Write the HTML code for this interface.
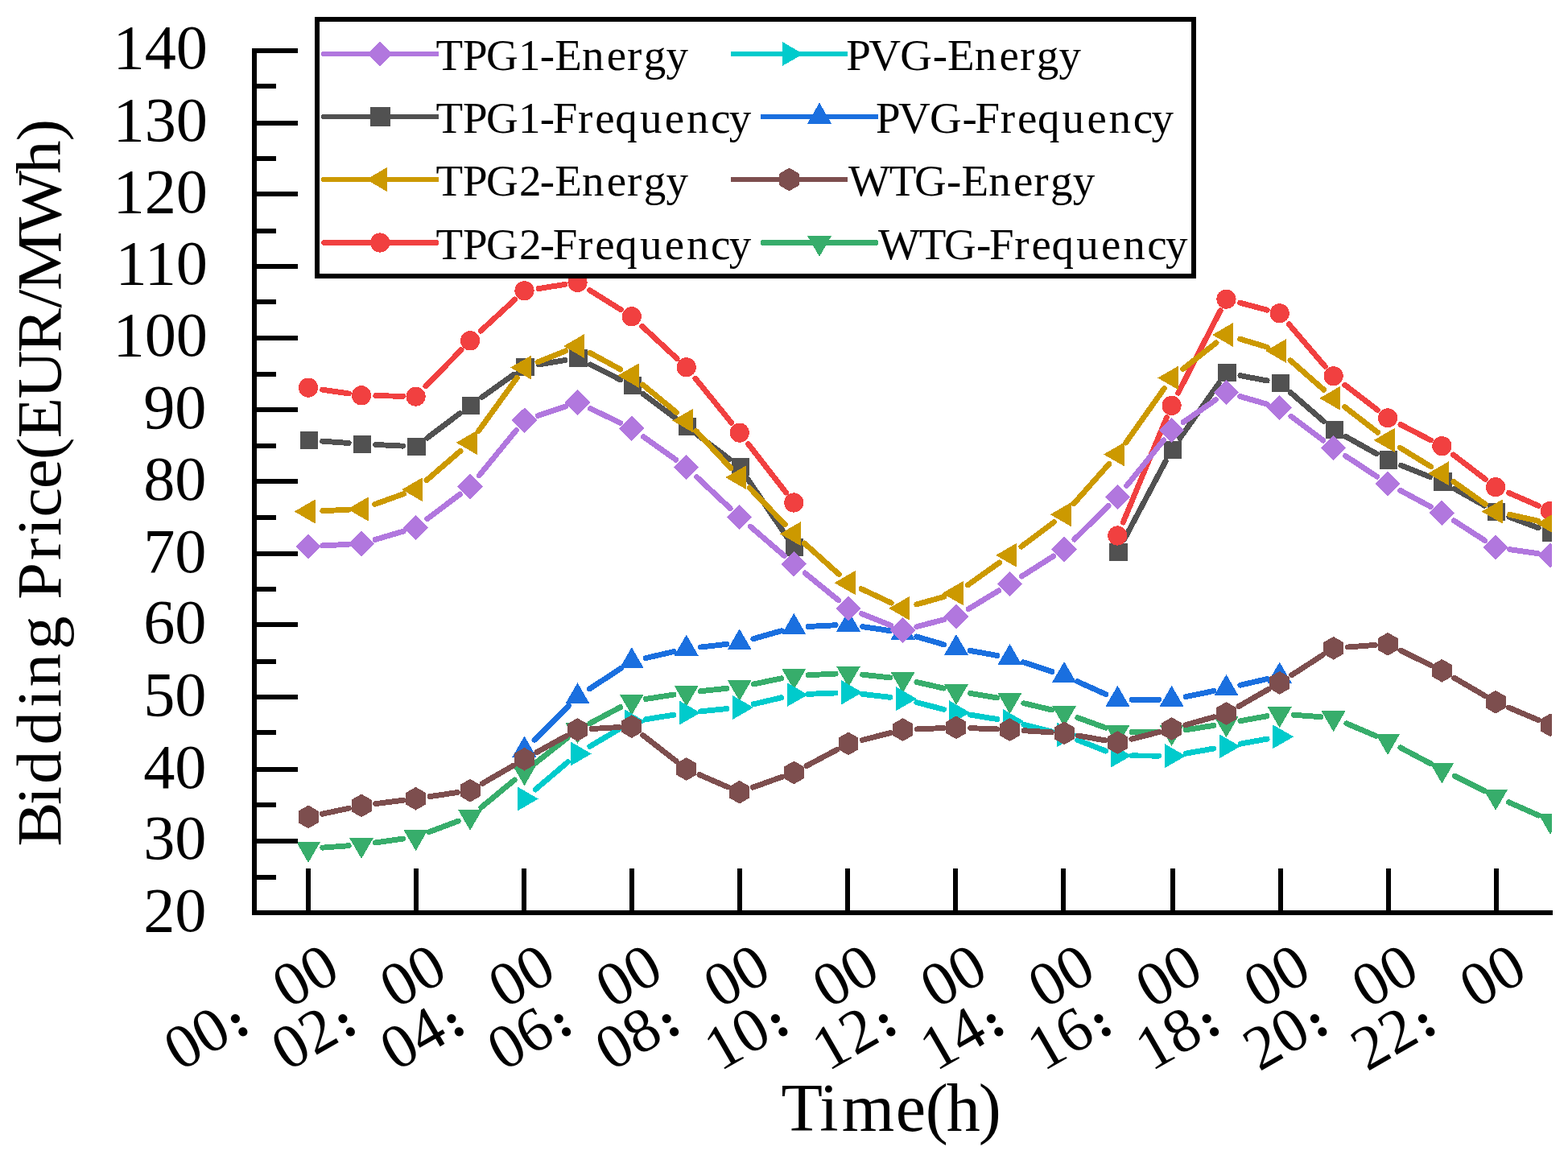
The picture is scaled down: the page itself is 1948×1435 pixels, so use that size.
<!DOCTYPE html><html><head><meta charset="utf-8"><title>Bidding Price</title><style>html,body{margin:0;padding:0;background:#fff}svg{display:block}text{font-family:"Liberation Serif",serif;fill:#000}.cn{font-family:"Noto Sans CJK SC","DejaVu Serif",sans-serif;font-weight:900}</style></head><body>
<svg width="1948" height="1435" viewBox="0 0 1948 1435" shape-rendering="crispEdges">
<rect width="1948" height="1435" fill="#fff"/>
<defs><clipPath id="cp"><rect x="316" y="0" width="1612" height="1134"/></clipPath></defs>
<g clip-path="url(#cp)">
<g><path d="M400.8 548.16L433.17 550.47M466.81 552.47L500.67 554.12M530.75 544.17L571.39 513.48M598.58 493.58L638.55 465.12M669.06 452.97L701.82 447.51M733.39 452.93L770.61 471.73M799.05 489.56L839.97 520.18M866.87 540.48L906.04 570.27M928.66 594.65L977.4 666.82M1396.73 670.07L1448.17 572.95M1465.91 544.38L1514.25 476.27M1540.94 466.63L1574.08 472.93M1603.15 487.56L1644.59 523.48M1672.15 542.56L1710.21 563.76M1740.62 578.13L1776.64 592.58M1806.93 607.21L1844.23 628.12M1874.76 642.18L1911.12 655.89" stroke="#515151" stroke-width="6.9" stroke-linecap="round" fill="none"/><rect x="372.94" y="535.8" width="22.2" height="22.2" fill="#515151"/><rect x="438.93" y="540.5" width="22.2" height="22.2" fill="#515151"/><rect x="506.45" y="543.8" width="22.2" height="22.2" fill="#515151"/><rect x="573.98" y="492.8" width="22.2" height="22.2" fill="#515151"/><rect x="641.4" y="444.8" width="22.2" height="22.2" fill="#515151"/><rect x="707.4" y="433.8" width="22.2" height="22.2" fill="#515151"/><rect x="774.7" y="467.8" width="22.2" height="22.2" fill="#515151"/><rect x="842.6" y="518.6" width="22.2" height="22.2" fill="#515151"/><rect x="908.6" y="568.8" width="22.2" height="22.2" fill="#515151"/><rect x="976.2" y="668.9" width="22.2" height="22.2" fill="#515151"/><rect x="1378.3" y="674.7" width="22.2" height="22.2" fill="#515151"/><rect x="1445.51" y="547.8" width="22.2" height="22.2" fill="#515151"/><rect x="1513.35" y="452.2" width="22.2" height="22.2" fill="#515151"/><rect x="1579.6" y="464.8" width="22.2" height="22.2" fill="#515151"/><rect x="1646.5" y="522.8" width="22.2" height="22.2" fill="#515151"/><rect x="1714" y="560.4" width="22.2" height="22.2" fill="#515151"/><rect x="1781.3" y="587.4" width="22.2" height="22.2" fill="#515151"/><rect x="1848" y="624.8" width="22.2" height="22.2" fill="#515151"/><rect x="1915.9" y="650.4" width="22.2" height="22.2" fill="#515151"/></g>
<g><path d="M400.65 484.19L433.3 488.99M466.83 491.64L500.65 492.29M528.97 479.85L572.98 434.69M597.18 411.25L639.8 372.06M669.09 358.56L701.79 353.45M732.57 360.47L771.34 384.84M797.85 405.41L841.04 445.49M863.92 470.12L908.68 525.26M929.63 551.65L976.54 611.95M1395.24 649.06L1449.5 518.58M1463.73 488.06L1516.2 385.75M1540.65 376.19L1574.34 385.2M1601.29 402.81L1646.25 455.23M1670.71 478.15L1711.5 509.51M1739.89 527.41L1777.29 546.86M1805.54 565.01L1845.47 595.54M1874.42 612.31L1911.42 628.45" stroke="#F14040" stroke-width="6.9" stroke-linecap="round" fill="none"/><circle cx="383.04" cy="481.6" r="12.1" fill="#F14040"/><circle cx="449.03" cy="491.3" r="12.1" fill="#F14040"/><circle cx="516.55" cy="492.6" r="12.1" fill="#F14040"/><circle cx="584.08" cy="423.3" r="12.1" fill="#F14040"/><circle cx="651.5" cy="361.3" r="12.1" fill="#F14040"/><circle cx="717.5" cy="351" r="12.1" fill="#F14040"/><circle cx="784.8" cy="393.3" r="12.1" fill="#F14040"/><circle cx="852.7" cy="456.3" r="12.1" fill="#F14040"/><circle cx="918.7" cy="537.6" r="12.1" fill="#F14040"/><circle cx="986.3" cy="624.5" r="12.1" fill="#F14040"/><circle cx="1388.4" cy="665.5" r="12.1" fill="#F14040"/><circle cx="1455.61" cy="503.9" r="12.1" fill="#F14040"/><circle cx="1523.45" cy="371.6" r="12.1" fill="#F14040"/><circle cx="1589.7" cy="389.3" r="12.1" fill="#F14040"/><circle cx="1656.6" cy="467.3" r="12.1" fill="#F14040"/><circle cx="1724.1" cy="519.2" r="12.1" fill="#F14040"/><circle cx="1791.4" cy="554.2" r="12.1" fill="#F14040"/><circle cx="1858.1" cy="605.2" r="12.1" fill="#F14040"/><circle cx="1926" cy="634.8" r="12.1" fill="#F14040"/></g>
<g><path d="M664.06 919.28L706.28 876.87M732.4 855.86L771.49 830.3M802.15 817.61L837.2 809.56M870.39 804.02L902.9 800.37M935.82 793.71L971.01 783.67M1004.08 778.43L1038.12 776.77M1071.61 778.6L1105.87 783.67M1138.69 790.97L1172.68 800.86M1205.47 808.46L1238.85 814.48M1271.43 822.81L1306.98 834.38M1338.33 846.62L1373.91 862.66M1406.2 869.2L1439.71 869.2M1473.05 865.63L1507.87 858.49M1540.79 851.27L1574.21 843.5" stroke="#1A6FDF" stroke-width="6.9" stroke-linecap="round" fill="none"/><polygon points="651.5,914.5 666.57,940.6 636.43,940.6" fill="#1A6FDF"/><polygon points="717.5,848.2 732.57,874.3 702.43,874.3" fill="#1A6FDF"/><polygon points="784.8,804.2 799.87,830.3 769.73,830.3" fill="#1A6FDF"/><polygon points="852.7,788.6 867.77,814.7 837.63,814.7" fill="#1A6FDF"/><polygon points="918.7,781.2 933.77,807.3 903.63,807.3" fill="#1A6FDF"/><polygon points="986.3,761.9 1001.37,788 971.23,788" fill="#1A6FDF"/><polygon points="1054,758.6 1069.07,784.7 1038.93,784.7" fill="#1A6FDF"/><polygon points="1121.6,768.6 1136.67,794.7 1106.53,794.7" fill="#1A6FDF"/><polygon points="1187.95,787.9 1203.02,814 1172.88,814" fill="#1A6FDF"/><polygon points="1254.5,799.9 1269.57,826 1239.43,826" fill="#1A6FDF"/><polygon points="1322.1,821.9 1337.17,848 1307.03,848" fill="#1A6FDF"/><polygon points="1388.4,851.8 1403.47,877.9 1373.33,877.9" fill="#1A6FDF"/><polygon points="1455.61,851.8 1470.68,877.9 1440.54,877.9" fill="#1A6FDF"/><polygon points="1523.45,837.9 1538.52,864 1508.38,864" fill="#1A6FDF"/><polygon points="1589.7,822.5 1604.77,848.6 1574.63,848.6" fill="#1A6FDF"/></g>
<g><path d="M400.79 1053.16L433.18 1050.7M466.65 1046.97L500.81 1042.06M533.22 1033.56L569.19 1020.08M597.81 1003.17L639.23 969.02M665.47 947.87L705.02 916.65M733.23 898.48L770.75 878.63M802.39 868.45L836.99 863.05M870.4 858.72L902.89 855.28M936.13 849.99L970.73 842.82M1004.08 838.73L1038.12 837.07M1071.7 838.21L1105.79 841.89M1138.96 847.53L1172.44 855.09M1205.51 861.5L1238.81 867.01M1271.82 873.7L1306.63 881.94M1338.84 891.66L1373.45 904.19M1406.2 909.6L1439.71 909.6M1473.19 906.83L1507.74 901.38M1540.96 895.73L1574.05 889.73M1607.45 888.23L1640.74 890.71M1672.98 898.86L1709.47 914.38M1739.83 928.92L1777.35 948.77M1807.33 964.15L1843.87 982.4M1874.38 996.69L1911.46 1013.07" stroke="#37AD6B" stroke-width="6.9" stroke-linecap="round" fill="none"/><polygon points="383.04,1071.9 398.11,1045.8 367.97,1045.8" fill="#37AD6B"/><polygon points="449.03,1066.9 464.1,1040.8 433.96,1040.8" fill="#37AD6B"/><polygon points="516.55,1057.2 531.62,1031.1 501.48,1031.1" fill="#37AD6B"/><polygon points="584.08,1031.9 599.15,1005.8 569.01,1005.8" fill="#37AD6B"/><polygon points="651.5,976.3 666.57,950.2 636.43,950.2" fill="#37AD6B"/><polygon points="717.5,924.2 732.57,898.1 702.43,898.1" fill="#37AD6B"/><polygon points="784.8,888.6 799.87,862.5 769.73,862.5" fill="#37AD6B"/><polygon points="852.7,878 867.77,851.9 837.63,851.9" fill="#37AD6B"/><polygon points="918.7,871 933.77,844.9 903.63,844.9" fill="#37AD6B"/><polygon points="986.3,857 1001.37,830.9 971.23,830.9" fill="#37AD6B"/><polygon points="1054,853.7 1069.07,827.6 1038.93,827.6" fill="#37AD6B"/><polygon points="1121.6,861 1136.67,834.9 1106.53,834.9" fill="#37AD6B"/><polygon points="1187.95,876 1203.02,849.9 1172.88,849.9" fill="#37AD6B"/><polygon points="1254.5,887 1269.57,860.9 1239.43,860.9" fill="#37AD6B"/><polygon points="1322.1,903 1337.17,876.9 1307.03,876.9" fill="#37AD6B"/><polygon points="1388.4,927 1403.47,900.9 1373.33,900.9" fill="#37AD6B"/><polygon points="1455.61,927 1470.68,900.9 1440.54,900.9" fill="#37AD6B"/><polygon points="1523.45,916.3 1538.52,890.2 1508.38,890.2" fill="#37AD6B"/><polygon points="1589.7,904.3 1604.77,878.2 1574.63,878.2" fill="#37AD6B"/><polygon points="1656.6,909.3 1671.67,883.2 1641.53,883.2" fill="#37AD6B"/><polygon points="1724.1,938 1739.17,911.9 1709.03,911.9" fill="#37AD6B"/><polygon points="1791.4,973.6 1806.47,947.5 1776.33,947.5" fill="#37AD6B"/><polygon points="1858.1,1006.9 1873.17,980.8 1843.03,980.8" fill="#37AD6B"/><polygon points="1926,1036.9 1941.07,1010.8 1910.93,1010.8" fill="#37AD6B"/></g>
<g><path d="M400.82 677.91L433.15 676.29M466.1 670.44L501.3 660.02M530.75 644.77L571.39 614.08M595.36 590.73L641.42 534.5M668.36 516.5L702.44 504.99M733.55 507.6L770.47 525.32M799.3 542.52L839.74 571.28M865.67 592.69L907.11 631.61M932.18 654.13L974.26 690.42M1000.12 712.02L1041.66 745.77M1070.5 762.47L1106.86 777.15M1138.82 778.61L1172.56 769.81M1203.18 756.58L1240.9 733.74M1269.52 715.95L1308.68 691.03M1334.8 670.03L1377.05 628.54M1399.62 603.58L1445.59 546.94M1470.24 524.46L1510.38 496.65M1540.56 492.51L1574.42 502.22M1603.96 517.26L1643.86 547.08M1671.48 566.37L1710.81 592.18M1739.77 609.35L1777.41 629.65M1806.36 646.84L1844.74 671.58M1875.72 682.69L1910.26 687.57" stroke="#B177DE" stroke-width="6.9" stroke-linecap="round" fill="none"/><polygon points="383.04,663.1 398.74,678.8 383.04,694.5 367.34,678.8" fill="#B177DE"/><polygon points="449.03,659.8 464.73,675.5 449.03,691.2 433.33,675.5" fill="#B177DE"/><polygon points="516.55,639.8 532.25,655.5 516.55,671.2 500.85,655.5" fill="#B177DE"/><polygon points="584.08,588.8 599.78,604.5 584.08,620.2 568.38,604.5" fill="#B177DE"/><polygon points="651.5,506.5 667.2,522.2 651.5,537.9 635.8,522.2" fill="#B177DE"/><polygon points="717.5,484.2 733.2,499.9 717.5,515.6 701.8,499.9" fill="#B177DE"/><polygon points="784.8,516.5 800.5,532.2 784.8,547.9 769.1,532.2" fill="#B177DE"/><polygon points="852.7,564.8 868.4,580.5 852.7,596.2 837,580.5" fill="#B177DE"/><polygon points="918.7,626.8 934.4,642.5 918.7,658.2 903,642.5" fill="#B177DE"/><polygon points="986.3,685.1 1002,700.8 986.3,716.5 970.6,700.8" fill="#B177DE"/><polygon points="1054,740.1 1069.7,755.8 1054,771.5 1038.3,755.8" fill="#B177DE"/><polygon points="1121.6,767.4 1137.3,783.1 1121.6,798.8 1105.9,783.1" fill="#B177DE"/><polygon points="1187.95,750.1 1203.65,765.8 1187.95,781.5 1172.25,765.8" fill="#B177DE"/><polygon points="1254.5,709.8 1270.2,725.5 1254.5,741.2 1238.8,725.5" fill="#B177DE"/><polygon points="1322.1,666.8 1337.8,682.5 1322.1,698.2 1306.4,682.5" fill="#B177DE"/><polygon points="1388.4,601.7 1404.1,617.4 1388.4,633.1 1372.7,617.4" fill="#B177DE"/><polygon points="1455.61,518.9 1471.31,534.6 1455.61,550.3 1439.91,534.6" fill="#B177DE"/><polygon points="1523.45,471.9 1539.15,487.6 1523.45,503.3 1507.75,487.6" fill="#B177DE"/><polygon points="1589.7,490.9 1605.4,506.6 1589.7,522.3 1574,506.6" fill="#B177DE"/><polygon points="1656.6,540.9 1672.3,556.6 1656.6,572.3 1640.9,556.6" fill="#B177DE"/><polygon points="1724.1,585.2 1739.8,600.9 1724.1,616.6 1708.4,600.9" fill="#B177DE"/><polygon points="1791.4,621.5 1807.1,637.2 1791.4,652.9 1775.7,637.2" fill="#B177DE"/><polygon points="1858.1,664.5 1873.8,680.2 1858.1,695.9 1842.4,680.2" fill="#B177DE"/><polygon points="1926,674.1 1941.7,689.8 1926,705.5 1910.3,689.8" fill="#B177DE"/></g>
<g><path d="M400.82 634.69L433.15 633.22M465.78 626.47L501.59 613.58M530.02 596.57L572.04 560.29M594.51 535.47L642.19 469.49M668.01 449.95L702.75 435.94M733.14 438.5L770.83 459M798.53 477.93L840.43 512.48M864.86 535.6L907.84 581.58M931.07 606L975.25 651.76M999.53 675.1L1042.18 713.47M1070.12 731.66L1107.2 749.05M1138.73 750.97L1172.65 741.41M1202.46 726.79L1241.54 699.01M1268.75 679.13L1309.37 648.73M1333.92 625.89L1377.85 576.39M1398.68 549.97L1446.43 482.48M1469.59 458.48L1510.97 425.85M1540.49 421.14L1574.48 431.4M1603.07 447.75L1644.66 484.3M1670.69 505.68L1711.51 537.18M1739.27 556.21L1777.85 579.88M1805.92 598.5L1845.13 626.3M1875.48 639.34L1910.47 647.07" stroke="#CC9900" stroke-width="6.9" stroke-linecap="round" fill="none"/><polygon points="365.64,635.5 391.74,620.43 391.74,650.57" fill="#CC9900"/><polygon points="431.63,632.5 457.73,617.43 457.73,647.57" fill="#CC9900"/><polygon points="499.15,608.2 525.25,593.13 525.25,623.27" fill="#CC9900"/><polygon points="566.68,549.9 592.78,534.83 592.78,564.97" fill="#CC9900"/><polygon points="634.1,456.6 660.2,441.53 660.2,471.67" fill="#CC9900"/><polygon points="700.1,430 726.2,414.93 726.2,445.07" fill="#CC9900"/><polygon points="767.4,466.6 793.5,451.53 793.5,481.67" fill="#CC9900"/><polygon points="835.3,522.6 861.4,507.53 861.4,537.67" fill="#CC9900"/><polygon points="901.3,593.2 927.4,578.13 927.4,608.27" fill="#CC9900"/><polygon points="968.9,663.2 995,648.13 995,678.27" fill="#CC9900"/><polygon points="1036.6,724.1 1062.7,709.03 1062.7,739.17" fill="#CC9900"/><polygon points="1104.2,755.8 1130.3,740.73 1130.3,770.87" fill="#CC9900"/><polygon points="1170.55,737.1 1196.65,722.03 1196.65,752.17" fill="#CC9900"/><polygon points="1237.1,689.8 1263.2,674.73 1263.2,704.87" fill="#CC9900"/><polygon points="1304.7,639.2 1330.8,624.13 1330.8,654.27" fill="#CC9900"/><polygon points="1371,564.5 1397.1,549.43 1397.1,579.57" fill="#CC9900"/><polygon points="1438.21,469.5 1464.31,454.43 1464.31,484.57" fill="#CC9900"/><polygon points="1506.05,416 1532.15,400.93 1532.15,431.07" fill="#CC9900"/><polygon points="1572.3,436 1598.4,420.93 1598.4,451.07" fill="#CC9900"/><polygon points="1639.2,494.8 1665.3,479.73 1665.3,509.87" fill="#CC9900"/><polygon points="1706.7,546.9 1732.8,531.83 1732.8,561.97" fill="#CC9900"/><polygon points="1774,588.2 1800.1,573.13 1800.1,603.27" fill="#CC9900"/><polygon points="1840.7,635.5 1866.8,620.43 1866.8,650.57" fill="#CC9900"/><polygon points="1908.6,650.5 1934.7,635.43 1934.7,665.57" fill="#CC9900"/></g>
<g><path d="M665.07 980.98L705.38 946.79M732.81 927.42L771.12 904.71M802.37 893.75L837 888.14M870.41 883.83L902.88 880.58M936.03 874.92L970.82 866.74M1004.08 862.36L1038.11 860.96M1071.68 862.37L1105.81 866.35M1138.83 872.67L1172.56 881.41M1205.53 888.2L1238.8 893.5M1271.77 900.32L1306.67 909.04M1338.68 919.38L1373.59 933.01M1406.2 938.91L1439.71 939.11M1473.14 936.12L1507.79 930.05M1540.96 924.13L1574.05 918.13" stroke="#00CBCC" stroke-width="6.9" stroke-linecap="round" fill="none"/><polygon points="668.9,992.5 642.8,977.43 642.8,1007.57" fill="#00CBCC"/><polygon points="734.9,936.5 708.8,921.43 708.8,951.57" fill="#00CBCC"/><polygon points="802.2,896.6 776.1,881.53 776.1,911.67" fill="#00CBCC"/><polygon points="870.1,885.6 844,870.53 844,900.67" fill="#00CBCC"/><polygon points="936.1,879 910,863.93 910,894.07" fill="#00CBCC"/><polygon points="1003.7,863.1 977.6,848.03 977.6,878.17" fill="#00CBCC"/><polygon points="1071.4,860.3 1045.3,845.23 1045.3,875.37" fill="#00CBCC"/><polygon points="1139,868.2 1112.9,853.13 1112.9,883.27" fill="#00CBCC"/><polygon points="1205.35,885.4 1179.25,870.33 1179.25,900.47" fill="#00CBCC"/><polygon points="1271.9,896 1245.8,880.93 1245.8,911.07" fill="#00CBCC"/><polygon points="1339.5,912.9 1313.4,897.83 1313.4,927.97" fill="#00CBCC"/><polygon points="1405.8,938.8 1379.7,923.73 1379.7,953.87" fill="#00CBCC"/><polygon points="1473.01,939.2 1446.91,924.13 1446.91,954.27" fill="#00CBCC"/><polygon points="1540.85,927.3 1514.75,912.23 1514.75,942.37" fill="#00CBCC"/><polygon points="1607.1,915.3 1581,900.23 1581,930.37" fill="#00CBCC"/></g>
<g><path d="M400.45 1011.21L433.48 1004.2M466.68 998.63L500.78 994.23M534.16 989.59L568.35 984.53M599.49 973.29L637.74 951.16M667.07 934.57L703.59 914.31M735.27 905.54L768.93 903.54M798.84 913.54L840.16 945.73M869.02 962.6L904.12 977.86M935.45 978.18L971.34 965.28M1002.02 951.54L1039.96 931.37M1071.24 919.49L1106.2 910.54M1139.39 905.88L1172.06 904.55M1205.74 904.62L1238.61 905.96M1272.26 907.73L1306.23 909.89M1339.63 913.99L1372.74 919.84M1405.66 918.24L1440.2 909.5M1472.74 900.78L1508.15 890.81M1538.88 877.63L1575.92 856.33M1604.66 838.76L1643.23 813.91M1674.35 803.99L1708.24 801.47M1740.08 808.14L1777.12 826.3M1806.78 842.27L1844.37 864.19M1874.5 879.13L1911.35 894.71" stroke="#7D4E4E" stroke-width="6.9" stroke-linecap="round" fill="none"/><polygon points="383.04,1000.5 395.51,1007.7 395.51,1022.1 383.04,1029.3 370.57,1022.1 370.57,1007.7" fill="#7D4E4E"/><polygon points="449.03,986.5 461.5,993.7 461.5,1008.1 449.03,1015.3 436.56,1008.1 436.56,993.7" fill="#7D4E4E"/><polygon points="516.55,977.8 529.02,985 529.02,999.4 516.55,1006.6 504.08,999.4 504.08,985" fill="#7D4E4E"/><polygon points="584.08,967.8 596.55,975 596.55,989.4 584.08,996.6 571.61,989.4 571.61,975" fill="#7D4E4E"/><polygon points="651.5,928.8 663.97,936 663.97,950.4 651.5,957.6 639.03,950.4 639.03,936" fill="#7D4E4E"/><polygon points="717.5,892.2 729.97,899.4 729.97,913.8 717.5,921 705.03,913.8 705.03,899.4" fill="#7D4E4E"/><polygon points="784.8,888.2 797.27,895.4 797.27,909.8 784.8,917 772.33,909.8 772.33,895.4" fill="#7D4E4E"/><polygon points="852.7,941.1 865.17,948.3 865.17,962.7 852.7,969.9 840.23,962.7 840.23,948.3" fill="#7D4E4E"/><polygon points="918.7,969.8 931.17,977 931.17,991.4 918.7,998.6 906.23,991.4 906.23,977" fill="#7D4E4E"/><polygon points="986.3,945.5 998.77,952.7 998.77,967.1 986.3,974.3 973.83,967.1 973.83,952.7" fill="#7D4E4E"/><polygon points="1054,909.5 1066.47,916.7 1066.47,931.1 1054,938.3 1041.53,931.1 1041.53,916.7" fill="#7D4E4E"/><polygon points="1121.6,892.2 1134.07,899.4 1134.07,913.8 1121.6,921 1109.13,913.8 1109.13,899.4" fill="#7D4E4E"/><polygon points="1187.95,889.5 1200.42,896.7 1200.42,911.1 1187.95,918.3 1175.48,911.1 1175.48,896.7" fill="#7D4E4E"/><polygon points="1254.5,892.2 1266.97,899.4 1266.97,913.8 1254.5,921 1242.03,913.8 1242.03,899.4" fill="#7D4E4E"/><polygon points="1322.1,896.5 1334.57,903.7 1334.57,918.1 1322.1,925.3 1309.63,918.1 1309.63,903.7" fill="#7D4E4E"/><polygon points="1388.4,908.2 1400.87,915.4 1400.87,929.8 1388.4,937 1375.93,929.8 1375.93,915.4" fill="#7D4E4E"/><polygon points="1455.61,891.2 1468.08,898.4 1468.08,912.8 1455.61,920 1443.14,912.8 1443.14,898.4" fill="#7D4E4E"/><polygon points="1523.45,872.1 1535.92,879.3 1535.92,893.7 1523.45,900.9 1510.98,893.7 1510.98,879.3" fill="#7D4E4E"/><polygon points="1589.7,834 1602.17,841.2 1602.17,855.6 1589.7,862.8 1577.23,855.6 1577.23,841.2" fill="#7D4E4E"/><polygon points="1656.6,790.9 1669.07,798.1 1669.07,812.5 1656.6,819.7 1644.13,812.5 1644.13,798.1" fill="#7D4E4E"/><polygon points="1724.1,785.9 1736.57,793.1 1736.57,807.5 1724.1,814.7 1711.63,807.5 1711.63,793.1" fill="#7D4E4E"/><polygon points="1791.4,818.9 1803.87,826.1 1803.87,840.5 1791.4,847.7 1778.93,840.5 1778.93,826.1" fill="#7D4E4E"/><polygon points="1858.1,857.8 1870.57,865 1870.57,879.4 1858.1,886.6 1845.63,879.4 1845.63,865" fill="#7D4E4E"/><polygon points="1926,886.5 1938.47,893.7 1938.47,908.1 1926,915.3 1913.53,908.1 1913.53,893.7" fill="#7D4E4E"/></g>
</g>
<path d="M313 60H319V1137H313ZM313 1131H1929V1137H313ZM316 60H370V66H316ZM316 104H343V110H316ZM316 150H370V156H316ZM316 194H343V200H316ZM316 238H370V244H316ZM316 284H343V290H316ZM316 328H370V334H316ZM316 372H343V378H316ZM316 417H370V423H316ZM316 462H343V468H316ZM316 506H370V512H316ZM316 551H343V557H316ZM316 595H370V601H316ZM316 640H343V646H316ZM316 685H370V691H316ZM316 729H343V735H316ZM316 773H370V779H316ZM316 819H343V825H316ZM316 863H370V869H316ZM316 907H343V913H316ZM316 953H370V959H316ZM316 997H343V1003H316ZM316 1042H370V1048H316ZM316 1087H343V1093H316ZM380 1079H386V1134H380ZM514 1079H520V1134H514ZM648 1079H654V1134H648ZM782 1079H788V1134H782ZM916 1079H922V1134H916ZM1050 1079H1056V1134H1050ZM1184 1079H1190V1134H1184ZM1318 1079H1324V1134H1318ZM1454 1079H1460V1134H1454ZM1588 1079H1594V1134H1588ZM1722 1079H1728V1134H1722ZM1856 1079H1862V1134H1856Z" fill="#000"/>
<text x="256.5" y="1157.4" font-size="78.3" text-anchor="end">20</text>
<text x="256.5" y="1067.15" font-size="78.3" text-anchor="end">30</text>
<text x="256.5" y="978.9" font-size="78.3" text-anchor="end">40</text>
<text x="256.5" y="888.65" font-size="78.3" text-anchor="end">50</text>
<text x="256.5" y="799.4" font-size="78.3" text-anchor="end">60</text>
<text x="256.5" y="710.65" font-size="78.3" text-anchor="end">70</text>
<text x="256.5" y="620.9" font-size="78.3" text-anchor="end">80</text>
<text x="256.5" y="531.65" font-size="78.3" text-anchor="end">90</text>
<text x="258" y="442.4" font-size="78.3" text-anchor="end">100</text>
<text x="258" y="353.15" font-size="78.3" text-anchor="end">110</text>
<text x="258" y="263.9" font-size="78.3" text-anchor="end">120</text>
<text x="258" y="174.65" font-size="78.3" text-anchor="end">130</text>
<text x="258" y="85.4" font-size="78.3" text-anchor="end">140</text>
<text transform="translate(223.54,1331.8) rotate(-30)" font-size="77.8"><tspan x="0">00</tspan><tspan class="cn" x="83.7" dy="1" font-size="51.6">:</tspan><tspan x="155.6" dy="-1">00</tspan></text>
<text transform="translate(357.05,1331.8) rotate(-30)" font-size="77.8"><tspan x="0">02</tspan><tspan class="cn" x="83.7" dy="1" font-size="51.6">:</tspan><tspan x="155.6" dy="-1">00</tspan></text>
<text transform="translate(492,1331.8) rotate(-30)" font-size="77.8"><tspan x="0">04</tspan><tspan class="cn" x="83.7" dy="1" font-size="51.6">:</tspan><tspan x="155.6" dy="-1">00</tspan></text>
<text transform="translate(625.3,1331.8) rotate(-30)" font-size="77.8"><tspan x="0">06</tspan><tspan class="cn" x="83.7" dy="1" font-size="51.6">:</tspan><tspan x="155.6" dy="-1">00</tspan></text>
<text transform="translate(759.2,1331.8) rotate(-30)" font-size="77.8"><tspan x="0">08</tspan><tspan class="cn" x="83.7" dy="1" font-size="51.6">:</tspan><tspan x="155.6" dy="-1">00</tspan></text>
<text transform="translate(894.5,1331.8) rotate(-30)" font-size="77.8"><tspan x="0">10</tspan><tspan class="cn" x="83.7" dy="1" font-size="51.6">:</tspan><tspan x="155.6" dy="-1">00</tspan></text>
<text transform="translate(1028.45,1331.8) rotate(-30)" font-size="77.8"><tspan x="0">12</tspan><tspan class="cn" x="83.7" dy="1" font-size="51.6">:</tspan><tspan x="155.6" dy="-1">00</tspan></text>
<text transform="translate(1162.6,1331.8) rotate(-30)" font-size="77.8"><tspan x="0">14</tspan><tspan class="cn" x="83.7" dy="1" font-size="51.6">:</tspan><tspan x="155.6" dy="-1">00</tspan></text>
<text transform="translate(1296.11,1331.8) rotate(-30)" font-size="77.8"><tspan x="0">16</tspan><tspan class="cn" x="83.7" dy="1" font-size="51.6">:</tspan><tspan x="155.6" dy="-1">00</tspan></text>
<text transform="translate(1430.2,1331.8) rotate(-30)" font-size="77.8"><tspan x="0">18</tspan><tspan class="cn" x="83.7" dy="1" font-size="51.6">:</tspan><tspan x="155.6" dy="-1">00</tspan></text>
<text transform="translate(1564.6,1331.8) rotate(-30)" font-size="77.8"><tspan x="0">20</tspan><tspan class="cn" x="83.7" dy="1" font-size="51.6">:</tspan><tspan x="155.6" dy="-1">00</tspan></text>
<text transform="translate(1698.6,1331.8) rotate(-30)" font-size="77.8"><tspan x="0">22</tspan><tspan class="cn" x="83.7" dy="1" font-size="51.6">:</tspan><tspan x="155.6" dy="-1">00</tspan></text>
<text x="970.55 1018.32 1045.68 1112.83 1149.84 1175.79 1215.87" y="1405" font-size="84.2">Time(h)</text>
<text transform="translate(75,0) scale(0.95,1) rotate(-90)" font-size="83.0" x="-1051.85 -1000.01 -973.99 -925.39 -879.11 -853.42 -807.09 -752.5 -745.06 -696.19 -666.01 -642.87 -607.15 -571.16 -544.58 -495.42 -438.16 -382.88 -361.33 -290.48 -215.96 -175.53" y="0">Bidding Price(EUR/MWh)</text>
<rect x="394" y="24" width="1089" height="319" fill="#fff" stroke="#000" stroke-width="6"/>
<path d="M402.5 67H542" stroke="#B177DE" stroke-width="6.9" stroke-linecap="round"/>
<polygon points="472.25,51.3 487.95,67 472.25,82.7 456.55,67" fill="#B177DE"/>
<text x="541.51 574.96 603.92 643.88 670.82 689.13 722.89 753.67 778.98 799.74 827.47" y="87.3" font-size="55.0">TPG1-Energy</text>
<path d="M402.5 145H542" stroke="#515151" stroke-width="6.9" stroke-linecap="round"/>
<rect x="459.85" y="132.6" width="24.8" height="24.8" fill="#515151"/>
<text x="541.51 574.96 603.92 643.88 670.82 686.81 717.98 739.32 764.35 794.91 825.72 852.89 882.94 905.87" y="165.3" font-size="55.0">TPG1-Frequency</text>
<path d="M402.5 223H542" stroke="#CC9900" stroke-width="6.9" stroke-linecap="round"/>
<polygon points="454.85,223 480.95,207.93 480.95,238.07" fill="#CC9900"/>
<text x="541.51 574.96 603.92 645.01 670.82 689.13 722.89 753.67 778.98 799.74 827.47" y="243.3" font-size="55.0">TPG2-Energy</text>
<path d="M402.5 301.5H542" stroke="#F14040" stroke-width="6.9" stroke-linecap="round"/>
<circle cx="472.25" cy="301.5" r="12.1" fill="#F14040"/>
<text x="541.51 574.96 603.92 645.01 670.82 686.81 717.98 739.32 764.35 794.91 825.72 852.89 882.94 905.87" y="321.8" font-size="55.0">TPG2-Frequency</text>
<path d="M911 67H1050" stroke="#00CBCC" stroke-width="6.9" stroke-linecap="round"/>
<polygon points="997.9,67 971.8,51.93 971.8,82.07" fill="#00CBCC"/>
<text x="1051.16 1079.19 1118.17 1158.77 1177.08 1210.84 1241.62 1266.93 1287.69 1315.42" y="87.3" font-size="55.0">PVG-Energy</text>
<path d="M948 145H1088" stroke="#1A6FDF" stroke-width="6.9" stroke-linecap="round"/>
<polygon points="1018,127.6 1033.07,153.7 1002.93,153.7" fill="#1A6FDF"/>
<text x="1087.91 1115.94 1154.92 1195.52 1211.51 1242.68 1264.02 1289.05 1319.61 1350.42 1377.59 1407.64 1430.57" y="165.3" font-size="55.0">PVG-Frequency</text>
<path d="M911 223H1050" stroke="#7D4E4E" stroke-width="6.9" stroke-linecap="round"/>
<polygon points="980.5,208.6 992.97,215.8 992.97,230.2 980.5,237.4 968.03,230.2 968.03,215.8" fill="#7D4E4E"/>
<text x="1053.97 1104.66 1136.07 1176.07 1194.38 1228.14 1258.92 1284.23 1304.99 1332.72" y="243.3" font-size="55.0">WTG-Energy</text>
<path d="M948 301.5H1088" stroke="#37AD6B" stroke-width="6.9" stroke-linecap="round"/>
<polygon points="1018,318.9 1033.07,292.8 1002.93,292.8" fill="#37AD6B"/>
<text x="1090.97 1141.66 1173.07 1213.07 1229.06 1260.23 1281.57 1306.6 1337.16 1367.97 1395.14 1425.19 1448.12" y="321.8" font-size="55.0">WTG-Frequency</text>
</svg></body></html>
